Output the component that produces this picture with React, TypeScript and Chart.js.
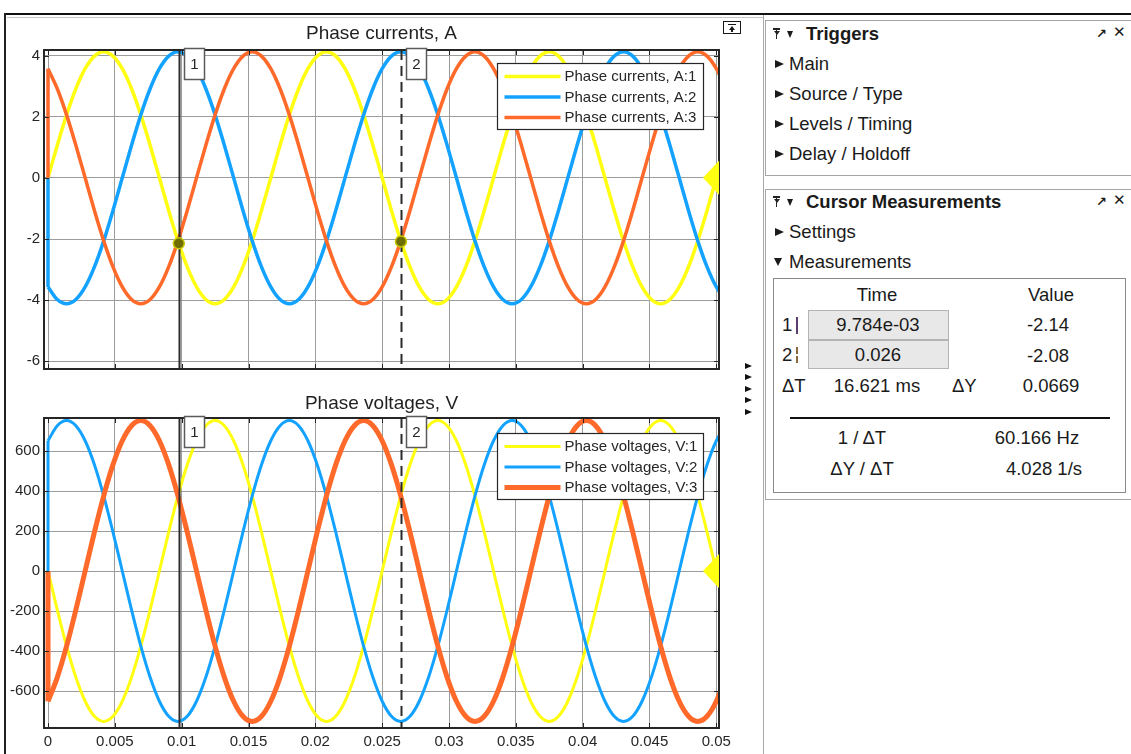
import React, { useEffect, useRef } from 'react';
import { Chart, registerables } from 'chart.js';

Chart.register(...registerables);

const FONT = '"Liberation Sans", Arial, Helvetica, sans-serif';

// ---------- data ----------
const X_MIN = -0.0003;
const X_MAX = 0.0502;
const X_TICKS = [0, 0.005, 0.01, 0.015, 0.02, 0.025, 0.03, 0.035, 0.04, 0.045, 0.05];
const CUR_Y_TICKS = [-6, -4, -2, 0, 2, 4];
const VOLT_Y_TICKS = [-600, -400, -200, 0, 200, 400, 600];
const CUR_Y_RANGE = [-6.25, 4.18];
const VOLT_Y_RANGE = [-785, 765];

const TIME = [
  0,
  0.000694, 0.001389, 0.002083, 0.002778, 0.003472, 0.004167, 0.004861, 0.005556, 0.00625, 0.006944, 0.007639, 0.008333,
  0.009028, 0.009722, 0.010417, 0.011111, 0.011806, 0.0125, 0.013194, 0.013889, 0.014583, 0.015278, 0.015972,
  0.016667, 0.017361, 0.018056, 0.01875, 0.019444, 0.020139, 0.020833, 0.021528, 0.022222, 0.022917, 0.023611, 0.024306,
  0.025, 0.025694, 0.026389, 0.027083, 0.027778, 0.028472, 0.029167, 0.029861, 0.030556, 0.03125, 0.031944, 0.032639,
  0.033333, 0.034028, 0.034722, 0.035417, 0.036111, 0.036806, 0.0375, 0.038194, 0.038889, 0.039583, 0.040278, 0.040972,
  0.041667, 0.042361, 0.043056, 0.04375, 0.044444, 0.045139, 0.045833, 0.046528, 0.047222, 0.047917, 0.048611, 0.049306,
  0.05, 0.050694,
];

// initial (pre-start) values of each phase: all signals start at 0
const CUR_INITIAL = [0, 0, 0];
const VOLT_INITIAL = [0, 0, 0];

const I1 = [
  0,
  1.066, 2.06, 2.913, 3.568, 3.98, 4.12, 3.98, 3.568, 2.913, 2.06, 1.066, 0, -1.066, -2.06, -2.913, -3.568, -3.98, -4.12, -3.98, -3.568, -2.913, -2.06, -1.066,
  0, 1.066, 2.06, 2.913, 3.568, 3.98, 4.12, 3.98, 3.568, 2.913, 2.06, 1.066, 0, -1.066, -2.06, -2.913, -3.568, -3.98, -4.12, -3.98, -3.568, -2.913, -2.06, -1.066,
  0, 1.066, 2.06, 2.913, 3.568, 3.98, 4.12, 3.98, 3.568, 2.913, 2.06, 1.066, 0, -1.066, -2.06, -2.913, -3.568, -3.98, -4.12, -3.98, -3.568, -2.913, -2.06, -1.066,
  0, 1.066,
];
const I2 = [
  -3.568,
  -3.98, -4.12, -3.98, -3.568, -2.913, -2.06, -1.066, 0, 1.066, 2.06, 2.913, 3.568, 3.98, 4.12, 3.98, 3.568, 2.913, 2.06, 1.066, 0, -1.066, -2.06, -2.913,
  -3.568, -3.98, -4.12, -3.98, -3.568, -2.913, -2.06, -1.066, 0, 1.066, 2.06, 2.913, 3.568, 3.98, 4.12, 3.98, 3.568, 2.913, 2.06, 1.066, 0, -1.066, -2.06, -2.913,
  -3.568, -3.98, -4.12, -3.98, -3.568, -2.913, -2.06, -1.066, 0, 1.066, 2.06, 2.913, 3.568, 3.98, 4.12, 3.98, 3.568, 2.913, 2.06, 1.066, 0, -1.066, -2.06, -2.913,
  -3.568, -3.98,
];
const I3 = [
  3.568,
  2.913, 2.06, 1.066, 0, -1.066, -2.06, -2.913, -3.568, -3.98, -4.12, -3.98, -3.568, -2.913, -2.06, -1.066, 0, 1.066, 2.06, 2.913, 3.568, 3.98, 4.12, 3.98,
  3.568, 2.913, 2.06, 1.066, 0, -1.066, -2.06, -2.913, -3.568, -3.98, -4.12, -3.98, -3.568, -2.913, -2.06, -1.066, 0, 1.066, 2.06, 2.913, 3.568, 3.98, 4.12, 3.98,
  3.568, 2.913, 2.06, 1.066, 0, -1.066, -2.06, -2.913, -3.568, -3.98, -4.12, -3.98, -3.568, -2.913, -2.06, -1.066, 0, 1.066, 2.06, 2.913, 3.568, 3.98, 4.12, 3.98,
  3.568, 2.913,
];

const V1 = [
  0,
  -194.6, -376, -531.7, -651.3, -726.4, -752, -726.4, -651.3, -531.7, -376, -194.6, 0, 194.6, 376, 531.7, 651.3, 726.4, 752, 726.4, 651.3, 531.7, 376, 194.6,
  0, -194.6, -376, -531.7, -651.3, -726.4, -752, -726.4, -651.3, -531.7, -376, -194.6, 0, 194.6, 376, 531.7, 651.3, 726.4, 752, 726.4, 651.3, 531.7, 376, 194.6,
  0, -194.6, -376, -531.7, -651.3, -726.4, -752, -726.4, -651.3, -531.7, -376, -194.6, 0, 194.6, 376, 531.7, 651.3, 726.4, 752, 726.4, 651.3, 531.7, 376, 194.6,
  0, -194.6,
];
const V2 = [
  651.3,
  726.4, 752, 726.4, 651.3, 531.7, 376, 194.6, 0, -194.6, -376, -531.7, -651.3, -726.4, -752, -726.4, -651.3, -531.7, -376, -194.6, 0, 194.6, 376, 531.7,
  651.3, 726.4, 752, 726.4, 651.3, 531.7, 376, 194.6, 0, -194.6, -376, -531.7, -651.3, -726.4, -752, -726.4, -651.3, -531.7, -376, -194.6, 0, 194.6, 376, 531.7,
  651.3, 726.4, 752, 726.4, 651.3, 531.7, 376, 194.6, 0, -194.6, -376, -531.7, -651.3, -726.4, -752, -726.4, -651.3, -531.7, -376, -194.6, 0, 194.6, 376, 531.7,
  651.3, 726.4,
];
const V3 = [
  -651.3,
  -531.7, -376, -194.6, 0, 194.6, 376, 531.7, 651.3, 726.4, 752, 726.4, 651.3, 531.7, 376, 194.6, 0, -194.6, -376, -531.7, -651.3, -726.4, -752, -726.4,
  -651.3, -531.7, -376, -194.6, 0, 194.6, 376, 531.7, 651.3, 726.4, 752, 726.4, 651.3, 531.7, 376, 194.6, 0, -194.6, -376, -531.7, -651.3, -726.4, -752, -726.4,
  -651.3, -531.7, -376, -194.6, 0, 194.6, 376, 531.7, 651.3, 726.4, 752, 726.4, 651.3, 531.7, 376, 194.6, 0, -194.6, -376, -531.7, -651.3, -726.4, -752, -726.4,
  -651.3, -531.7,
];

const CURSOR_T = [0.009784, 0.026405];
const CURSOR_I = [-2.14, -2.08];
const CURSOR_NAMES = ['1', '2'];

const CUR_TITLE = 'Phase currents, A';
const VOLT_TITLE = 'Phase voltages, V';
const CUR_LABELS = ['Phase currents, A:1', 'Phase currents, A:2', 'Phase currents, A:3'];
const VOLT_LABELS = ['Phase voltages, V:1', 'Phase voltages, V:2', 'Phase voltages, V:3'];
const COLORS = ['#FFFF11', '#13A2FF', '#FF6929'];
const CUR_WIDTHS = [3.5, 3.5, 3.5];
const VOLT_WIDTHS = [3, 3, 5];

const TRIGGER_ITEMS = ['Main', 'Source / Type', 'Levels / Timing', 'Delay / Holdoff'];

// ---------- chart helpers ----------
const fmtX = (v: number) => String(parseFloat(Number(v).toFixed(4)));

const decor = {
  id: 'decor',
  afterDatasetsDraw(chart: any, _args: any, o: any) {
    const { ctx, chartArea: ca, scales } = chart;
    const xs = scales.x;
    const ys = scales.y;
    ctx.save();
    // cursors
    CURSOR_T.forEach((t, i) => {
      const px = Math.round(xs.getPixelForValue(t)) + 0.5;
      ctx.beginPath();
      ctx.setLineDash(i === 0 ? [] : [10, 6]);
      ctx.lineWidth = 2;
      ctx.strokeStyle = '#2b2b2b';
      ctx.moveTo(px, ca.top);
      ctx.lineTo(px, ca.bottom);
      ctx.stroke();
    });
    ctx.setLineDash([]);
    // frame
    ctx.lineWidth = 2;
    ctx.strokeStyle = '#262626';
    ctx.strokeRect(ca.left, ca.top, ca.right - ca.left, ca.bottom - ca.top);
    // inner ticks
    ctx.lineWidth = 1;
    ctx.beginPath();
    X_TICKS.forEach((v) => {
      const px = Math.round(xs.getPixelForValue(v)) + 0.5;
      ctx.moveTo(px, ca.bottom); ctx.lineTo(px, ca.bottom - 5);
      ctx.moveTo(px, ca.top); ctx.lineTo(px, ca.top + 5);
    });
    (o.yTicks as number[]).forEach((v) => {
      const py = Math.round(ys.getPixelForValue(v)) + 0.5;
      ctx.moveTo(ca.left, py); ctx.lineTo(ca.left + 5, py);
      ctx.moveTo(ca.right, py); ctx.lineTo(ca.right - 5, py);
    });
    ctx.stroke();
    // cursor dots
    if (o.dots) {
      CURSOR_T.forEach((t, i) => {
        const px = xs.getPixelForValue(t);
        const py = ys.getPixelForValue(CURSOR_I[i]);
        ctx.beginPath();
        ctx.arc(px, py, 5.5, 0, Math.PI * 2);
        ctx.fillStyle = '#6e6e00';
        ctx.fill();
        ctx.lineWidth = 1.5;
        ctx.strokeStyle = '#c9c900';
        ctx.stroke();
      });
    }
    // cursor labels
    CURSOR_T.forEach((t, i) => {
      const px = Math.round(xs.getPixelForValue(t)) + 5.5;
      const top = ca.top - 1.5;
      ctx.fillStyle = '#ffffff';
      ctx.fillRect(px, top, 20, 31);
      ctx.lineWidth = 1.5;
      ctx.strokeStyle = '#5a5a5a';
      ctx.strokeRect(px, top, 20, 31);
      ctx.fillStyle = '#262626';
      ctx.font = `15px ${FONT}`;
      ctx.textAlign = 'center';
      ctx.textBaseline = 'middle';
      ctx.fillText(CURSOR_NAMES[i], px + 10, top + 16);
    });
    // trigger marker
    const y0 = ys.getPixelForValue(0);
    ctx.beginPath();
    ctx.moveTo(ca.right - 16, y0);
    ctx.lineTo(ca.right, y0 - 17);
    ctx.lineTo(ca.right, y0 + 17);
    ctx.closePath();
    ctx.fillStyle = COLORS[0];
    ctx.fill();
    // legend
    const bx = Math.round(ca.right - 222) + 0.5;
    const by = Math.round(ca.top + o.legendTop) + 0.5;
    ctx.fillStyle = '#ffffff';
    ctx.fillRect(bx, by, 206, 66);
    ctx.lineWidth = 1.2;
    ctx.strokeStyle = '#262626';
    ctx.strokeRect(bx, by, 206, 66);
    (o.labels as string[]).forEach((lab, i) => {
      const ly = by + 13 + 20.5 * i;
      ctx.beginPath();
      ctx.lineWidth = o.widths[i];
      ctx.strokeStyle = COLORS[i];
      ctx.moveTo(bx + 7, ly);
      ctx.lineTo(bx + 63, ly);
      ctx.stroke();
      ctx.fillStyle = '#262626';
      ctx.font = `15px ${FONT}`;
      ctx.textAlign = 'left';
      ctx.textBaseline = 'middle';
      ctx.fillText(lab, bx + 67, ly + 0.5);
    });
    // title
    ctx.fillStyle = '#1f1f1f';
    ctx.font = `19px ${FONT}`;
    ctx.textAlign = 'center';
    ctx.textBaseline = 'middle';
    ctx.fillText(o.title, (ca.left + ca.right) / 2, ca.top - o.titleOffset);
    ctx.restore();
  },
};

function buildConfig(kind: 'cur' | 'volt'): any {
  const isCur = kind === 'cur';
  const series = isCur ? [I1, I2, I3] : [V1, V2, V3];
  const initial = isCur ? CUR_INITIAL : VOLT_INITIAL;
  const labels = isCur ? CUR_LABELS : VOLT_LABELS;
  const widths = isCur ? CUR_WIDTHS : VOLT_WIDTHS;
  const yTicks = isCur ? CUR_Y_TICKS : VOLT_Y_TICKS;
  const yRange = isCur ? CUR_Y_RANGE : VOLT_Y_RANGE;
  const datasets: any[] = [];
  series.forEach((s, i) => {
    datasets.push({
      label: labels[i],
      data: TIME.map((t, k) => ({ x: t, y: s[k] })),
      borderColor: COLORS[i],
      backgroundColor: COLORS[i],
      borderWidth: widths[i],
      pointRadius: 0,
      pointHoverRadius: 0,
      cubicInterpolationMode: 'monotone',
      fill: false,
      order: 3 - i,
    });
    // switch-on step at t = 0 (from the initial value to the first sample)
    datasets.push({
      label: labels[i] + ' (start)',
      data: [{ x: TIME[0], y: initial[i] }, { x: TIME[0], y: s[0] }],
      borderColor: COLORS[i],
      borderWidth: widths[i],
      pointRadius: 0,
      tension: 0,
      fill: false,
      order: 3 - i,
    });
  });
  const tickFont = { family: FONT, size: 15 };
  return {
    type: 'line',
    data: { datasets },
    plugins: [decor],
    options: {
      responsive: false,
      animation: false,
      events: [],
      layout: { padding: isCur ? { top: 50, left: 0, right: 26, bottom: 0 } : { top: 28, left: 0, right: 26, bottom: 0 } },
      plugins: {
        legend: { display: false },
        tooltip: { enabled: false },
        title: { display: false },
        decor: {
          yTicks,
          labels,
          widths,
          dots: isCur,
          title: isCur ? CUR_TITLE : VOLT_TITLE,
          titleOffset: isCur ? 16 : 14,
          legendTop: isCur ? 13 : 15,
        },
      },
      scales: {
        x: {
          type: 'linear',
          min: X_MIN,
          max: X_MAX,
          afterBuildTicks: (s: any) => { s.ticks = X_TICKS.map((v) => ({ value: v })); },
          afterFit: (s: any) => { s.height = isCur ? 21 : 26; },
          grid: { color: '#9c9c9c', lineWidth: 1, drawTicks: false },
          border: { display: false },
          ticks: {
            display: !isCur,
            autoSkip: false,
            maxRotation: 0,
            padding: 5,
            font: tickFont,
            color: '#262626',
            callback: (v: any) => fmtX(v),
          },
        },
        y: {
          type: 'linear',
          min: yRange[0],
          max: yRange[1],
          afterBuildTicks: (s: any) => { s.ticks = yTicks.map((v) => ({ value: v })); },
          afterFit: (s: any) => { s.width = 44; },
          grid: { color: '#9c9c9c', lineWidth: 1, drawTicks: false },
          border: { display: false },
          ticks: {
            padding: 4,
            font: tickFont,
            color: '#262626',
            callback: (v: any) => String(v),
          },
        },
      },
    },
  };
}

// ---------- HTML helpers ----------
type TxtProps = { x: number; y: number; children: any; align?: 'left' | 'center' | 'right'; bold?: boolean; size?: number; color?: string; family?: string };
const Txt = ({ x, y, children, align = 'left', bold = false, size = 18.5, color = '#1a1a1a', family = FONT }: TxtProps) => (
  <div
    style={{
      position: 'absolute',
      left: x,
      top: y,
      transform: `translate(${align === 'center' ? '-50%' : align === 'right' ? '-100%' : '0'}, -50%)`,
      fontSize: size,
      fontWeight: bold ? 700 : 400,
      whiteSpace: 'nowrap',
      color,
      lineHeight: 1.15,
      fontFamily: family,
    }}
  >
    {children}
  </div>
);

const Box = ({ x, y, w, h, style }: { x: number; y: number; w: number; h: number; style?: any }) => (
  <div style={{ position: 'absolute', left: x, top: y, width: w, height: h, boxSizing: 'border-box', ...style }} />
);

const Tri = ({ x, y }: { x: number; y: number }) => (
  <div style={{ position: 'absolute', left: x, top: y - 3.5, width: 0, height: 0, borderLeft: '7px solid #111', borderTop: '3.5px solid transparent', borderBottom: '3.5px solid transparent' }} />
);

const RightTri = ({ x, y }: { x: number; y: number }) => (
  <div style={{ position: 'absolute', left: x, top: y - 4.5, width: 0, height: 0, borderLeft: '9px solid #1a1a1a', borderTop: '4.5px solid transparent', borderBottom: '4.5px solid transparent' }} />
);

const DownTri = ({ x, y, w = 9, h = 8 }: { x: number; y: number; w?: number; h?: number }) => (
  <div style={{ position: 'absolute', left: x, top: y - h / 2, width: 0, height: 0, borderLeft: `${w / 2}px solid transparent`, borderRight: `${w / 2}px solid transparent`, borderTop: `${h}px solid #1a1a1a` }} />
);

const PanelHeader = ({ y, title }: { y: number; title: string }) => (
  <>
    <Box x={773} y={y - 6} w={7} h={1.5} style={{ background: '#222' }} />
    <Box x={776} y={y - 4} w={1.2} h={9} style={{ background: '#222' }} />
    <div style={{ position: 'absolute', left: 773.5, top: y - 3, width: 0, height: 0, borderLeft: '3px solid transparent', borderRight: '3px solid transparent', borderTop: '4px solid #222' }} />
    <DownTri x={787} y={y} w={7} h={7} />
    <Txt x={806} y={y} bold>{title}</Txt>
    <Txt x={1096} y={y} size={13} bold family='"DejaVu Sans", sans-serif'>↗</Txt>
    <Txt x={1113} y={y - 1} size={15} family='"DejaVu Sans", sans-serif'>✕</Txt>
  </>
);

export default function App() {
  const topRef = useRef<HTMLCanvasElement | null>(null);
  const botRef = useRef<HTMLCanvasElement | null>(null);

  useEffect(() => {
    const c1 = new Chart(topRef.current as HTMLCanvasElement, buildConfig('cur'));
    const c2 = new Chart(botRef.current as HTMLCanvasElement, buildConfig('volt'));
    return () => {
      c1.destroy();
      c2.destroy();
    };
  }, []);

  const arrowYs = [366, 377.5, 389, 400.5, 412];

  return (
    <div style={{ position: 'absolute', left: 0, top: 0, width: 1131, height: 754, background: '#ffffff', overflow: 'hidden', fontFamily: FONT }}>
      <canvas ref={topRef} width={745} height={390} style={{ position: 'absolute', left: 0, top: 0 }} />
      <canvas ref={botRef} width={745} height={364} style={{ position: 'absolute', left: 0, top: 390 }} />

      {/* window frame */}
      <Box x={4} y={13} w={1127} h={2} style={{ background: '#111' }} />
      <Box x={4} y={13} w={2} h={741} style={{ background: '#222' }} />
      <Box x={7} y={17} w={756} h={1} style={{ background: '#c8c8c8' }} />
      <Box x={763} y={15} w={1} h={739} style={{ background: '#a8a8a8' }} />

      {/* undock icon */}
      <Box x={723} y={21} w={18} h={13} style={{ border: '1.5px solid #1a1a1a', background: '#fff' }} />
      <Box x={728} y={24} w={8} h={1.3} style={{ background: '#1a1a1a' }} />
      <div style={{ position: 'absolute', left: 728.5, top: 26, width: 0, height: 0, borderLeft: '3.5px solid transparent', borderRight: '3.5px solid transparent', borderBottom: '4px solid #1a1a1a' }} />
      <Box x={731.4} y={29} w={1.3} h={3} style={{ background: '#1a1a1a' }} />

      {/* collapse arrows */}
      {arrowYs.map((y, i) => <Tri key={i} x={745} y={y} />)}

      {/* Triggers panel */}
      <Box x={765} y={20} w={380} h={156} style={{ border: '1px solid #a5a5a5' }} />
      <PanelHeader y={34} title="Triggers" />
      {TRIGGER_ITEMS.map((t, i) => (
        <React.Fragment key={t}>
          <RightTri x={775} y={64 + 30 * i} />
          <Txt x={789} y={64 + 30 * i}>{t}</Txt>
        </React.Fragment>
      ))}

      {/* Cursor measurements panel */}
      <Box x={765} y={189} w={380} h={311} style={{ border: '1px solid #a5a5a5' }} />
      <PanelHeader y={202} title="Cursor Measurements" />
      <RightTri x={775} y={232} />
      <Txt x={789} y={232}>Settings</Txt>
      <DownTri x={774} y={262} w={9} h={8} />
      <Txt x={789} y={262}>Measurements</Txt>

      <Box x={773} y={278} w={353} h={215} style={{ border: '1px solid #8a8a8a' }} />
      <Txt x={877} y={295} align="center">Time</Txt>
      <Txt x={1051} y={295} align="center">Value</Txt>

      <Txt x={782} y={325}>1</Txt>
      <Box x={796} y={317} w={1.5} h={17} style={{ background: '#5b3d70' }} />
      <Box x={808} y={310} w={141} h={30} style={{ background: '#e8e8e8', border: '1.5px solid #b4b4b4' }} />
      <Txt x={878} y={325} align="center">9.784e-03</Txt>
      <Txt x={1048} y={325} align="center">-2.14</Txt>

      <Txt x={782} y={355}>2</Txt>
      <Box x={796} y={347} w={1.5} h={7} style={{ background: '#8a6a3d' }} />
      <Box x={796} y={356} w={1.5} h={7} style={{ background: '#8a6a3d' }} />
      <Box x={808} y={340} w={141} h={29} style={{ background: '#e8e8e8', border: '1.5px solid #b4b4b4' }} />
      <Txt x={878} y={355} align="center">0.026</Txt>
      <Txt x={1048} y={356} align="center">-2.08</Txt>

      <Txt x={782} y={386}>ΔT</Txt>
      <Txt x={877} y={386} align="center">16.621 ms</Txt>
      <Txt x={952} y={386}>ΔY</Txt>
      <Txt x={1051} y={386} align="center">0.0669</Txt>

      <Box x={790} y={417} w={320} h={1.5} style={{ background: '#111' }} />
      <Txt x={862} y={438} align="center">1 / ΔT</Txt>
      <Txt x={1037} y={438} align="center">60.166 Hz</Txt>
      <Txt x={862} y={469} align="center">ΔY / ΔT</Txt>
      <Txt x={1044} y={469} align="center">4.028 1/s</Txt>
    </div>
  );
}
